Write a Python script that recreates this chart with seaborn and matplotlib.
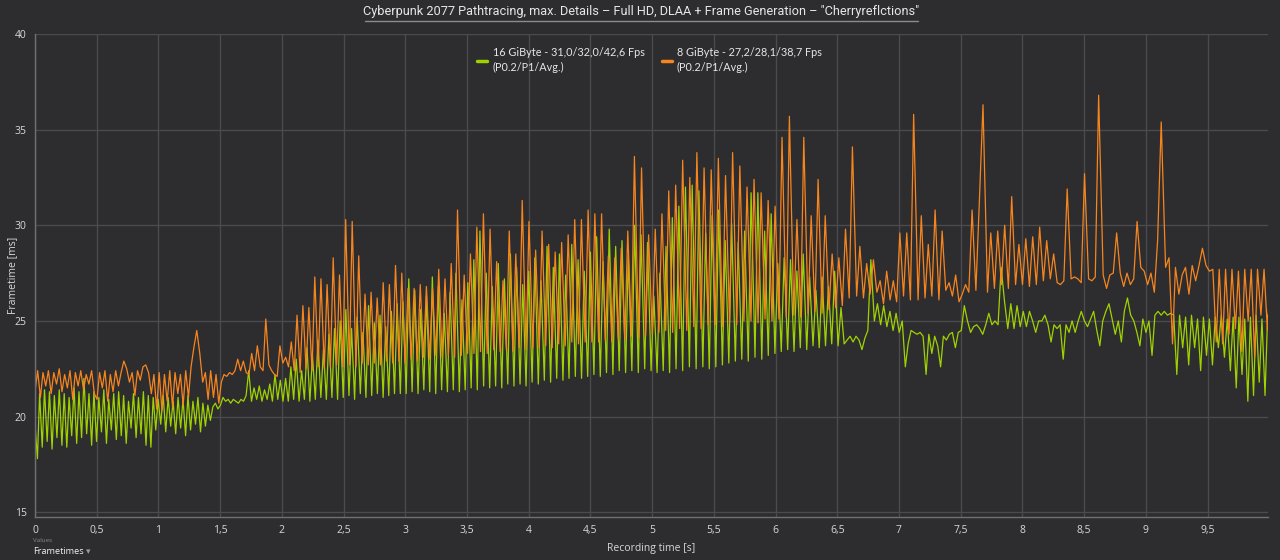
import numpy as np
import pandas as pd
import matplotlib
matplotlib.use("Agg")
import matplotlib.pyplot as plt
from matplotlib.lines import Line2D
from matplotlib.ticker import FuncFormatter
import seaborn as sns

# frametimes [ms], one value per frame (time = cumulative frametime)
green_a = [19.6, 17.8, 21.2, 18.4, 21.4, 18.7, 21.3, 18.3, 21.1, 18.9, 21.4, 18.5, 21.2, 18.4, 21.0, 19.0, 21.5, 18.6, 21.3, 18.9, 22.0, 19.1, 21.2, 18.5,
           21.3, 18.7, 21.0, 19.2, 21.4, 18.6, 20.9, 19.3, 21.2, 18.8, 21.3, 19.0, 21.1, 18.6, 20.8, 19.4, 21.2, 18.9, 21.0, 19.1, 21.3, 18.5, 21.1, 18.4,
           21.0, 19.3, 20.9, 19.6, 21.1, 19.2, 21.0, 19.5, 20.8, 19.1, 21.0, 19.4, 20.9, 19.0, 21.1, 19.3, 20.8, 19.6, 21.0, 19.2, 20.7, 19.5, 20.6, 19.8]
green_b = [20.5, 20.7, 20.4, 20.6, 21.0, 20.8, 20.9, 20.7, 20.9, 20.8, 20.7, 20.9, 20.8, 21.1,
           22.4, 20.8, 21.5, 20.9, 21.6, 20.8, 21.4, 20.9, 21.7, 20.8, 22.2, 20.9, 21.9, 20.8]
green_c = [22.0, 20.8, 22.6, 20.9, 23.0, 20.8, 22.4, 20.9, 23.6, 20.8, 23.2, 20.9, 24.0, 21.0, 23.5, 20.9, 24.3, 21.0, 24.6, 20.9,
           25.0, 21.0, 25.6, 21.1, 24.6, 20.9, 25.2, 21.2, 24.4, 21.0, 25.8, 21.1, 24.9, 21.2, 25.3, 21.0, 24.7, 21.1, 25.5, 21.2, 25.9, 21.2,
           26.0, 21.2, 27.2, 21.3, 26.6, 21.2, 25.6, 21.4, 26.3, 21.3, 27.3, 21.2, 26.8, 21.4, 25.4, 21.3, 26.5, 21.4, 27.5, 21.3, 26.1, 21.4,
           27.0, 21.5, 28.2, 21.4, 29.7, 21.6, 27.5, 21.5, 26.8, 21.6, 28.0, 21.5, 27.2, 21.7, 28.5, 21.6, 27.8, 21.7, 26.9, 21.6,
           27.6, 21.8, 28.3, 21.7, 27.1, 21.9, 28.9, 21.8, 27.8, 22.0, 28.5, 21.9, 27.4, 22.0, 29.0, 22.1, 28.2, 22.0, 27.6, 22.1,
           28.6, 22.2, 29.4, 22.1, 28.1, 22.3, 29.8, 22.2, 28.9, 22.4, 29.2, 22.3, 28.4, 22.4, 30.0, 22.3, 29.5, 22.5, 29.1, 22.4,
           26.3, 22.3, 27.5, 22.4, 28.9, 22.3, 30.4, 22.5, 31.0, 22.4, 32.0, 22.6, 32.1, 22.5, 31.8, 22.6, 29.6, 22.5, 30.5, 22.6,
           30.8, 22.7, 29.2, 22.8, 30.1, 22.9, 29.1, 23.0, 29.7, 22.9, 31.7, 23.1, 31.7, 23.0, 29.7, 23.2, 30.6, 23.3,
           28.0, 23.4, 28.3, 23.5, 28.2, 23.4, 27.6, 23.6, 28.5, 23.5, 27.3, 23.7, 26.6, 23.6, 27.3, 23.7, 26.8, 23.8, 27.6, 23.7, 25.7, 23.8]
green_d = [24.0, 24.2, 23.9, 24.2, 24.0, 23.5, 24.1, 24.5, 28.2, 25.0, 25.9, 24.8, 25.8, 24.7, 25.5, 24.5, 25.4, 24.4, 25.0, 22.6,
           23.8, 24.5, 24.4, 24.3, 24.4, 24.2, 22.2, 24.3, 23.3, 24.2, 23.7, 22.6, 24.2, 24.0, 24.3, 24.4, 23.6, 24.4, 24.5]
green_e = [25.8, 25.0, 24.4, 24.7, 24.8, 24.6, 24.3, 24.8, 25.4, 24.8, 25.0, 24.8,
           27.8, 26.0, 24.6, 25.9, 24.6, 25.8, 24.7, 25.5, 24.7, 25.5, 25.0, 24.4,
           25.0, 25.0, 25.3, 24.8, 23.9, 24.8, 24.6, 24.8, 23.0, 24.8, 24.4, 25.0,
           24.4, 25.0, 25.5, 25.0, 24.7, 25.1, 25.5, 24.5, 23.7, 25.0, 25.5, 25.9,
           25.1, 24.3, 25.0, 23.9, 25.5, 26.2, 25.3, 25.0, 24.4, 23.7, 25.1, 24.4,
           25.0, 23.2, 25.3, 25.5, 25.3, 25.5, 25.3, 25.4]
green_f = [25.3, 22.2, 25.3, 23.6, 25.2, 22.7, 25.3, 23.6, 25.1, 22.4, 25.2, 23.2, 25.1, 22.7, 25.2, 23.6, 25.3, 23.1,
           25.1, 22.4, 25.2, 21.5, 25.2, 22.2, 25.1, 20.8, 25.2, 21.1, 25.3, 21.8, 25.1, 21.1, 25.3, 22.7, 24.0]

orange_a = [21.3, 22.4, 21.0, 22.3, 21.6, 22.4, 21.2, 22.3, 21.7, 22.5, 21.3, 22.2, 21.5, 22.4, 20.9, 22.3, 21.6, 22.4, 21.4, 22.2, 21.7, 22.4, 21.2,
            20.9, 22.3, 21.5, 22.4, 20.8, 22.2, 21.3, 22.4, 21.6, 22.3, 22.9, 22.5, 21.8, 22.3, 21.1, 22.4, 21.9, 22.6, 22.7, 22.3, 21.2, 22.2, 20.4,
            22.3, 20.3, 22.2, 20.8, 22.4, 20.5, 22.3, 21.2, 22.2, 20.6, 22.4, 21.0, 22.6, 23.6, 24.5, 23.3, 21.8, 22.3, 20.9, 22.4, 21.0, 22.2, 20.7]
orange_b = [21.8, 22.2, 22.1, 22.3, 22.2, 22.4, 23.0, 22.4, 22.9, 22.3, 22.2, 23.3, 22.4, 23.7, 22.6, 22.4, 25.1,
            22.7, 22.4, 22.2, 22.1, 23.7, 22.8, 23.1, 22.6]
orange_c = [23.9, 22.4, 25.3, 22.3, 25.8, 22.5, 25.7, 22.4, 27.3, 22.6, 27.2, 22.5, 26.9, 22.6, 28.3, 22.7, 27.4, 22.6,
            30.3, 22.7, 30.2, 22.6, 28.4, 22.8, 26.4, 22.7, 26.5, 22.8, 26.2, 22.7, 27.0, 22.9, 26.9, 22.8, 27.9, 22.9, 27.5, 22.8,
            26.7, 23.0, 26.7, 22.9, 26.9, 23.1, 26.8, 23.0, 26.7, 23.2, 27.7, 23.1, 27.2, 23.2, 28.0, 23.1, 30.8, 23.2, 27.4, 23.3,
            28.5, 23.3, 29.9, 23.4, 30.6, 23.3, 29.8, 23.5, 28.1, 23.4, 27.1, 23.5, 29.7, 23.4, 28.5, 23.6, 31.3, 23.5, 30.2, 23.6,
            28.7, 23.6, 29.7, 23.7, 29.0, 23.6, 28.6, 23.8, 29.1, 23.7, 29.5, 23.9, 30.3, 23.8, 30.3, 23.9, 30.8, 23.9,
            30.6, 23.9, 30.6, 24.0, 28.4, 23.9, 28.3, 24.1, 28.8, 24.0, 29.7, 24.2, 33.6, 24.1, 33.0, 24.2, 29.5, 24.3,
            29.8, 24.4, 30.6, 24.5, 31.8, 24.4, 32.1, 24.6, 33.4, 24.5, 32.5, 24.7, 33.8, 24.6, 33.0, 24.8,
            32.9, 24.8, 33.5, 24.7, 32.6, 24.9, 33.8, 24.8, 33.1, 25.0, 32.0, 25.0, 32.4, 24.9, 31.7, 25.1, 31.3, 25.0, 31.0, 25.1,
            34.6, 25.2, 35.7, 25.3, 30.3, 25.2, 34.6, 25.4, 30.5, 25.5, 32.4, 25.4, 30.5, 25.6, 28.5, 25.7, 28.3, 25.8, 29.8]
orange_d = [26.2, 34.1, 26.3, 28.9, 26.2, 28.0, 26.4, 28.2, 26.5, 27.1, 25.9, 27.6, 26.1, 27.1, 26.0,
            29.6, 26.3, 29.6, 26.1, 35.8, 26.1, 30.5, 26.2, 29.0, 26.3, 30.8, 26.1, 29.7, 26.6, 27.0, 26.3, 27.4, 26.0]
orange_e = [26.4, 26.9, 26.5, 30.8, 26.6, 31.0, 36.3, 26.5,
            29.6, 26.7, 29.7, 26.9, 30.0, 26.7, 31.5, 26.9, 29.0, 26.9, 29.3, 26.8, 29.4, 26.9, 29.9, 27.1, 29.2, 27.2, 28.5, 27.0,
            26.9, 27.1, 31.9, 27.2, 27.3, 27.2, 27.0, 32.7, 27.2, 27.1, 27.3, 36.8, 27.4, 26.7, 27.4, 27.5, 29.6, 27.5, 26.8,
            27.5, 26.9, 27.2, 30.2, 27.8, 27.6, 26.9, 27.5, 26.5, 29.2, 35.4, 27.8, 28.3]
orange_f = [23.8, 27.8, 26.4, 27.4, 27.8, 26.4, 27.9, 27.1, 27.9, 28.8, 27.9, 27.6, 27.7, 23.9, 27.7, 23.8,
            27.7, 24.3, 27.7, 24.6, 27.6, 23.4, 27.7, 25.0, 27.7, 23.1, 27.7, 25.3, 27.7, 24.5, 27.6]

label_16 = "16 GiByte - 31,0/32,0/42,6 Fps\n(P0.2/P1/Avg.)"
label_8 = "8 GiByte - 27,2/28,1/38,7 Fps\n(P0.2/P1/Avg.)"
title = 'Cyberpunk 2077 Pathtracing, max. Details \u2013 Full HD, DLAA + Frame Generation \u2013 "Cherryreflctions"'
x_ticks = [0, 0.5, 1, 1.5, 2, 2.5, 3, 3.5, 4, 4.5, 5, 5.5, 6, 6.5, 7, 7.5, 8, 8.5, 9, 9.5]
y_ticks = [15, 20, 25, 30, 35, 40]

green_col = "#9fd200"
orange_col = "#f7851e"
bg = "#2d2d30"


def frames(parts):
    ft = np.concatenate([np.array(p, dtype=float) for p in parts])
    t = np.concatenate([[0.0], np.cumsum(ft)[:-1]]) / 1000.0
    return pd.DataFrame({"time": t, "ft": ft})


df16 = frames([green_a, green_b, green_c, green_d, green_e, green_f])
df8 = frames([orange_a, orange_b, orange_c, orange_d, orange_e, orange_f])

sns.set_theme(style="dark")
plt.rcParams["font.family"] = ["Open Sans", "DejaVu Sans"]

fig = plt.figure(figsize=(12.8, 5.6), dpi=100, facecolor=bg)
ax = fig.add_axes([35 / 1280, 1 - 517 / 560, (1268 - 35) / 1280, (517 - 34) / 560])
ax.set_facecolor(bg)

sns.lineplot(data=df16, x="time", y="ft", ax=ax, color=green_col, lw=0.9,
             sort=False, estimator=None, legend=False)
sns.lineplot(data=df8, x="time", y="ft", ax=ax, color=orange_col, lw=0.9,
             sort=False, estimator=None, legend=False)

ax.set_xlim(0, 9.99)
ax.set_ylim(14.75, 40)
ax.set_xticks(x_ticks)
ax.set_yticks(y_ticks)
ax.xaxis.set_major_formatter(FuncFormatter(lambda v, p: f"{v:g}".replace(".", ",")))
ax.grid(True, color="#4b4b4e", lw=1)
ax.tick_params(colors="#d8d8d8", labelsize=7.5, length=0, pad=6)
for s in ["top", "right"]:
    ax.spines[s].set_visible(False)
for s in ["left", "bottom"]:
    ax.spines[s].set_color("#707070")
    ax.spines[s].set_linewidth(1)

ax.set_xlabel("")
ax.set_ylabel("")
fig.text(651 / 1280, 1 - 548 / 560, "Recording time [s]", color="#d8d8d8", fontsize=7.5, ha="center", va="center")
fig.text(13 / 1280, 1 - 275 / 560, "Frametime [ms]", color="#d8d8d8", fontsize=7.5, ha="center", va="center", rotation=90)
fig.text(33 / 1280, 1 - 540 / 560, "Values", color="#8a8a8a", fontsize=4.5, ha="left", va="center")
fig.text(33 / 1280, 1 - 552 / 560, "Frametimes", color="#f0f0f0", fontsize=6.6, ha="left", va="center")
fig.text(86 / 1280, 1 - 552 / 560, "\u25be", color="#9a9a9a", fontsize=6.5, ha="left", va="center",
         family=["DejaVu Sans"])

fig.text(641 / 1280, 1 - 11 / 560, title, color="#e6e6e6", fontsize=9.2, ha="center", va="center",
         family=["Roboto", "DejaVu Sans"])
fig.add_artist(Line2D([365 / 1280, 918 / 1280], [1 - 21 / 560, 1 - 21 / 560], color="#8c8c8c", lw=1))

handles = [Line2D([], [], color=green_col, lw=2.5), Line2D([], [], color=orange_col, lw=2.5)]
leg = ax.legend(handles, [label_16, label_8], ncol=2, loc="upper left",
                bbox_to_anchor=(472 / 1280, 1 - 42 / 560), bbox_transform=fig.transFigure,
                frameon=False, handlelength=0.9, handletextpad=0.5,
                columnspacing=1.6, borderpad=0, labelspacing=0.2,
                prop={"family": ["Lato", "DejaVu Sans"], "size": 7.8})
for txt in leg.get_texts():
    txt.set_color("#e6e6e6")
    txt.set_linespacing(1.4)

fig.savefig("out.png", dpi=100, facecolor=bg)
